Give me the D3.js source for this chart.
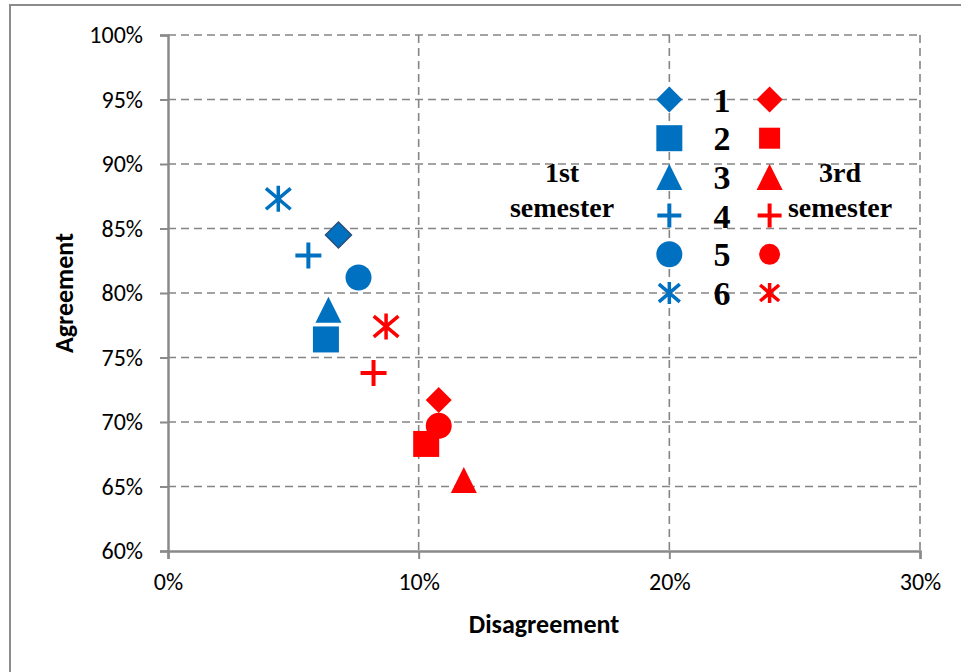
<!DOCTYPE html>
<html>
<head>
<meta charset="utf-8">
<script src="https://cdn.jsdelivr.net/npm/d3@7"></script>
<style>
  html, body { margin: 0; padding: 0; background: #fff; }
  svg { display: block; }
</style>
</head>
<body>
<svg id="chart" width="961" height="672"></svg>
<script>
// Survey items 1–6: share of disagreement (x) vs agreement (y)
const items = ["1", "2", "3", "4", "5", "6"];
const firstDisagree  = [0.068, 0.063, 0.064, 0.056, 0.076, 0.044];
const firstAgree     = [0.845, 0.764, 0.787, 0.829, 0.812, 0.873];
const thirdDisagree  = [0.108, 0.103, 0.118, 0.082, 0.108, 0.087];
const thirdAgree     = [0.717, 0.683, 0.655, 0.738, 0.697, 0.774];
const markerShapes   = ["diamond", "square", "triangle", "plus", "circle", "asterisk"];

// In-plot key: marker columns and rows in data units
const keyX1 = 0.20, keyX3 = 0.24;
const keyRows = [0.95, 0.92, 0.89, 0.86, 0.83, 0.80];

const xTicks = [0, 0.1, 0.2, 0.3];
const yTicks = [0.60, 0.65, 0.70, 0.75, 0.80, 0.85, 0.90, 0.95, 1.00];

const blue = "#0070C0", red = "#FF0000";
const sans = "Carlito, 'Open Sans', 'Liberation Sans', sans-serif";
const serif = "'Liberation Serif', 'DejaVu Serif', serif";

const svg = d3.select("#chart");
const x = d3.scaleLinear().domain([0, 0.3]).range([168, 920]);
const y = d3.scaleLinear().domain([0.6, 1.0]).range([551, 35]);

// outer frame
svg.append("rect").attr("x", 10).attr("y", 5).attr("width", 960).attr("height", 700)
  .attr("fill", "none").attr("stroke", "#8c8c8c").attr("stroke-width", 2);

// grid
const grid = svg.append("g").attr("stroke", "#858585").attr("stroke-width", 1.6)
  .attr("stroke-dasharray", "8,5");
grid.selectAll(".hg").data(yTicks.slice(1)).join("line")
  .attr("x1", x(0)).attr("x2", x(0.3)).attr("y1", d => y(d)).attr("y2", d => y(d));
grid.selectAll(".vg").data(xTicks.slice(1)).join("line")
  .attr("y1", y(1)).attr("y2", y(0.6)).attr("x1", d => x(d)).attr("x2", d => x(d));

// axes
const fmt = d3.format(".0%");
const yAxis = svg.append("g").attr("transform", `translate(${x(0)},0)`)
  .call(d3.axisLeft(y).tickValues(yTicks).tickFormat(fmt).tickSize(8).tickPadding(17));
const xAxis = svg.append("g").attr("transform", `translate(0,${y(0.6)})`)
  .call(d3.axisBottom(x).tickValues(xTicks).tickFormat(fmt).tickSize(8).tickPadding(14));
[xAxis, yAxis].forEach(a => {
  a.attr("font-size", null).attr("font-family", null);
  a.select(".domain").attr("stroke", "#8a8a8a").attr("stroke-width", 2.5);
  a.selectAll(".tick line").attr("stroke", "#8a8a8a").attr("stroke-width", 2);
  a.selectAll(".tick text").attr("fill", "#000")
    .style("font-family", sans).style("font-size", "24px");
});

// axis titles
svg.append("text").attr("x", x(0.15)).attr("y", 633).attr("text-anchor", "middle")
  .style("font-family", sans).style("font-size", "26px").style("font-weight", "bold")
  .text("Disagreement");
svg.append("text").attr("transform", `translate(73,${y(0.8)}) rotate(-90)`)
  .attr("text-anchor", "middle")
  .style("font-family", sans).style("font-size", "26px").style("font-weight", "bold")
  .text("Agreement");

// marker drawing
function marker(g, shape, color, s, outline) {
  const h = s / 2;
  if (shape === "diamond") {
    g.append("path").attr("d", `M0,${-h}L${h},0L0,${h}L${-h},0Z`).attr("fill", color)
      .attr("stroke", outline || "none").attr("stroke-width", 1.5);
  } else if (shape === "square") {
    g.append("rect").attr("x", -h).attr("y", -h).attr("width", s).attr("height", s).attr("fill", color);
  } else if (shape === "triangle") {
    g.append("path").attr("d", `M0,${-h}L${h},${h}L${-h},${h}Z`).attr("fill", color);
  } else if (shape === "circle") {
    g.append("circle").attr("r", h).attr("fill", color);
  } else if (shape === "plus") {
    g.append("path").attr("d", `M${-h},0H${h}M0,${-h}V${h}`).attr("stroke", color).attr("stroke-width", 4);
  } else if (shape === "asterisk") {
    const a = h * 0.95, b = h * 0.8;
    g.append("path").attr("d", `M0,${-h}V${h}M${-a},${-b}L${a},${b}M${-a},${b}L${a},${-b}`)
      .attr("stroke", color).attr("stroke-width", 3.5);
  }
}

const plot = svg.append("g");
items.forEach((it, i) => {
  marker(plot.append("g").attr("transform", `translate(${x(firstDisagree[i])},${y(firstAgree[i])})`),
    markerShapes[i], blue, 26, i === 0 ? "#2a4f7a" : null);
});
items.forEach((it, i) => {
  marker(plot.append("g").attr("transform", `translate(${x(thirdDisagree[i])},${y(thirdAgree[i])})`),
    markerShapes[i], red, 26);
});

// key
const keySize1 = [26, 26, 26, 24, 26, 22];
const keySize3 = [26, 21, 26, 24, 21, 20];
items.forEach((it, i) => {
  marker(svg.append("g").attr("transform", `translate(${x(keyX1)},${y(keyRows[i])})`),
    markerShapes[i], blue, keySize1[i]);
  marker(svg.append("g").attr("transform", `translate(${x(keyX3)},${y(keyRows[i])})`),
    markerShapes[i], red, keySize3[i]);
});
svg.append("g").selectAll("text").data(items).join("text")
  .attr("x", 722).attr("y", (d, i) => y(keyRows[i]) + 12).attr("text-anchor", "middle")
  .style("font-family", serif).style("font-size", "34px").style("font-weight", "bold")
  .text(d => d);

const semText = [["1st", "semester"], ["3rd", "semester"]];
const semX = [562, 840];
semText.forEach((lines, k) => {
  lines.forEach((t, j) => {
    svg.append("text").attr("x", semX[k]).attr("y", 182 + j * 35).attr("text-anchor", "middle")
      .style("font-family", serif).style("font-size", "28px").style("font-weight", "bold")
      .text(t);
  });
});
</script>
</body>
</html>
